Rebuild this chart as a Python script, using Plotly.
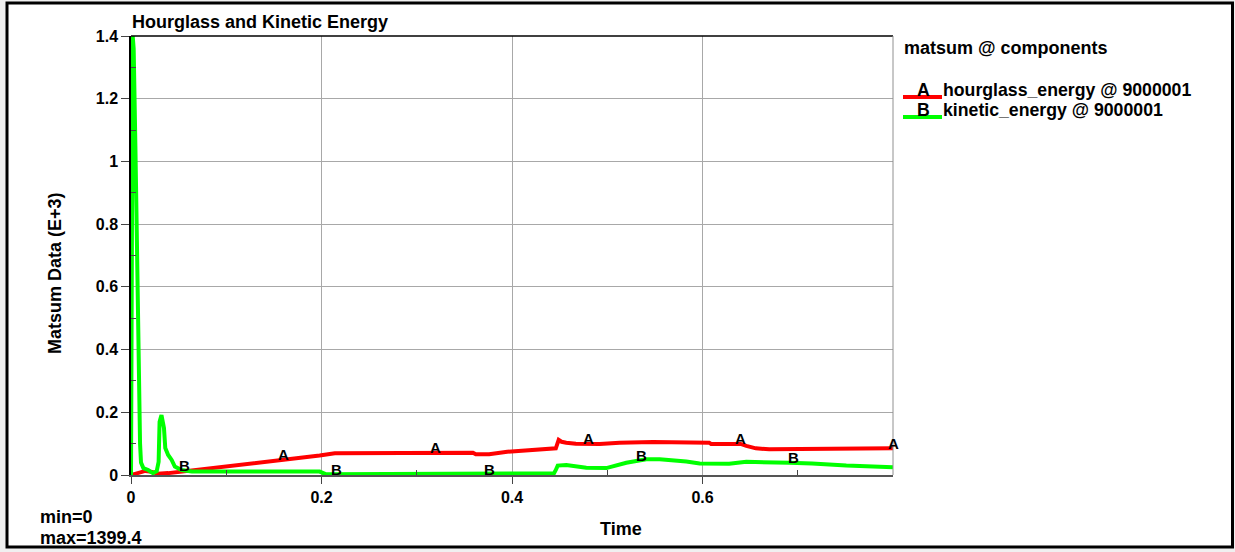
import numpy as np
import plotly.graph_objects as go

# ---- data (Time, Matsum Data E+3) ----
hour_x = [0, 0.006, 0.015, 0.022, 0.028, 0.039, 0.051, 0.074, 0.10, 0.163, 0.198, 0.214,
          0.279, 0.283, 0.30, 0.359, 0.362, 0.376, 0.395, 0.43, 0.446, 0.449, 0.452, 0.457,
          0.467, 0.492, 0.513, 0.548, 0.575, 0.607, 0.609, 0.64, 0.646, 0.656, 0.670, 0.733,
          0.76, 0.8]
hour_y = [0, 0.005, 0.013, 0.010, 0.004, 0.006, 0.010, 0.018, 0.027, 0.050, 0.062, 0.069,
          0.069, 0.071, 0.071, 0.071, 0.066, 0.066, 0.074, 0.080, 0.085, 0.112, 0.106, 0.103,
          0.100, 0.099, 0.103, 0.105, 0.104, 0.103, 0.099, 0.099, 0.093, 0.085, 0.082, 0.085,
          0.086, 0.085]

kin_x = [0, 0.0008, 0.0018, 0.0028, 0.0038, 0.0046, 0.0053, 0.006, 0.0066, 0.0075, 0.0085,
         0.0095, 0.0105, 0.013, 0.018, 0.023, 0.027, 0.029, 0.030, 0.032, 0.0346, 0.036,
         0.039, 0.0427, 0.046, 0.053, 0.064, 0.10, 0.15, 0.198, 0.205, 0.25, 0.30, 0.35,
         0.40, 0.425, 0.43, 0.444, 0.446, 0.448, 0.457, 0.478, 0.499, 0.52, 0.541, 0.555,
         0.583, 0.597, 0.628, 0.646, 0.691, 0.715, 0.751, 0.8]
kin_y = [0, 0.90, 1.3994, 1.36, 1.24, 1.05, 0.92, 0.79, 0.53, 0.39, 0.22, 0.10, 0.04,
         0.022, 0.016, 0.006, 0.012, 0.042, 0.17, 0.191, 0.15, 0.086, 0.064, 0.048, 0.027,
         0.016, 0.011, 0.011, 0.011, 0.011, 0.002, 0.002, 0.002, 0.002, 0.002, 0.002, 0.005,
         0.005, 0.016, 0.030, 0.032, 0.023, 0.022, 0.039, 0.050, 0.050, 0.043, 0.037, 0.036,
         0.042, 0.039, 0.037, 0.030, 0.025]

label_A_x = [0.16, 0.32, 0.48, 0.64, 0.80]
label_B_x = [0.056, 0.216, 0.376, 0.536, 0.696]

x_ticks = [0, 0.2, 0.4, 0.6]
y_ticks = [0, 0.2, 0.4, 0.6, 0.8, 1.0, 1.2, 1.4]

series_names = ["hourglass_energy @ 9000001", "kinetic_energy @ 9000001"]
series_letters = ["A", "B"]
series_colors = ["#ff0000", "#00ff00"]

FONT = "Liberation Sans, Arial, sans-serif"

fig = go.Figure()
fig.add_trace(go.Scatter(x=hour_x, y=hour_y, mode="lines",
                         line=dict(color=series_colors[0], width=4), showlegend=False))
fig.add_trace(go.Scatter(x=kin_x, y=kin_y, mode="lines",
                         line=dict(color=series_colors[1], width=4), showlegend=False))

ann = []
def bold(size):
    return dict(family=FONT, size=size, color="black", weight="bold")

for lx in label_A_x:
    ann.append(dict(x=lx, y=float(np.interp(lx, hour_x, hour_y)), xref="x", yref="y",
                    text="A", showarrow=False, yanchor="middle", yshift=5, font=bold(15)))
for lx in label_B_x:
    ann.append(dict(x=lx, y=float(np.interp(lx, kin_x, kin_y)), xref="x", yref="y",
                    text="B", showarrow=False, yanchor="middle", yshift=5, font=bold(15)))

# plot-area geometry in pixels (for paper coordinates)
W, H = 1235, 552
L, R, T, B = 131, 893, 36, 475
def px(xp):
    return (xp - L) / (R - L)
def py(yp):
    return (B - yp) / (B - T)

ann += [
    dict(x=px(130), y=py(22), xref="paper", yref="paper", text="Hourglass and Kinetic Energy",
         showarrow=False, xanchor="left", yanchor="middle", font=bold(18)),
    dict(x=px(902), y=py(48), xref="paper", yref="paper", text="matsum @ components",
         showarrow=False, xanchor="left", yanchor="middle", font=bold(18)),
    dict(x=px(38), y=py(517), xref="paper", yref="paper", text="min=0",
         showarrow=False, xanchor="left", yanchor="middle", font=bold(18)),
    dict(x=px(38), y=py(538), xref="paper", yref="paper", text="max=1399.4",
         showarrow=False, xanchor="left", yanchor="middle", font=bold(18)),
    dict(x=px(621), y=py(529), xref="paper", yref="paper", text="Time",
         showarrow=False, xanchor="center", yanchor="middle", font=bold(18)),
    dict(x=px(55), y=py(273), xref="paper", yref="paper", text="Matsum Data (E+3)",
         showarrow=False, xanchor="center", yanchor="middle", textangle=-90, font=bold(18)),
]

shapes = []
# outer frame
shapes.append(dict(type="rect", xref="paper", yref="paper", x0=px(7), x1=px(1232.5),
                   y0=py(547), y1=py(3), line=dict(color="black", width=3),
                   fillcolor="white", layer="below"))
# plot frame: top black, right grey
shapes.append(dict(type="line", xref="paper", yref="paper", x0=0, x1=1, y0=1, y1=1,
                   line=dict(color="black", width=1.5)))
shapes.append(dict(type="line", xref="paper", yref="paper", x0=1, x1=1, y0=0, y1=1,
                   line=dict(color="#909090", width=1)))

# legend entries
for i, (nm, let, col) in enumerate(zip(series_names, series_letters, series_colors)):
    yc = 90 + 20 * i
    shapes.append(dict(type="line", xref="paper", yref="paper", x0=px(903), x1=px(942),
                       y0=py(yc + 7), y1=py(yc + 7), line=dict(color=col, width=4)))
    ann.append(dict(x=px(923), y=py(yc), xref="paper", yref="paper", text=let,
                    showarrow=False, xanchor="center", yanchor="middle", font=bold(17.7)))
    ann.append(dict(x=px(941), y=py(yc), xref="paper", yref="paper", text=nm,
                    showarrow=False, xanchor="left", yanchor="middle", font=bold(17.7)))

fig.update_layout(
    width=W, height=H,
    margin=dict(l=L, r=W - R, t=T, b=H - B, pad=0),
    paper_bgcolor="#f0f0f0", plot_bgcolor="white",
    annotations=ann, shapes=shapes, showlegend=False,
    font=dict(family=FONT, color="black"),
)
fig.update_xaxes(range=[0, 0.8], tickvals=x_ticks, showgrid=True, gridcolor="#a8a8a8",
                 gridwidth=1, zeroline=False, showline=True, linecolor="#555555",
                 linewidth=1.5, ticks="outside", ticklen=7, tickcolor="#444444",
                 tickfont=bold(16),
                 minor=dict(tickvals=[0.1, 0.3, 0.5, 0.7], ticks="inside", ticklen=5,
                            tickcolor="#444444", showgrid=False))
fig.update_yaxes(range=[0, 1.4], tickvals=y_ticks, showgrid=True, gridcolor="#a8a8a8",
                 gridwidth=1, zeroline=False, showline=True, linecolor="black",
                 linewidth=1.5, ticks="outside", ticklen=8, tickcolor="#444444",
                 tickfont=bold(16),
                 minor=dict(tickvals=[0.1, 0.3, 0.5, 0.7, 0.9, 1.1, 1.3], ticks="inside",
                            ticklen=5, tickcolor="#444444", showgrid=False))

fig.write_html("out.html", config={"displayModeBar": False},
               post_script="document.body.style.margin='0';document.body.style.padding='0';")
